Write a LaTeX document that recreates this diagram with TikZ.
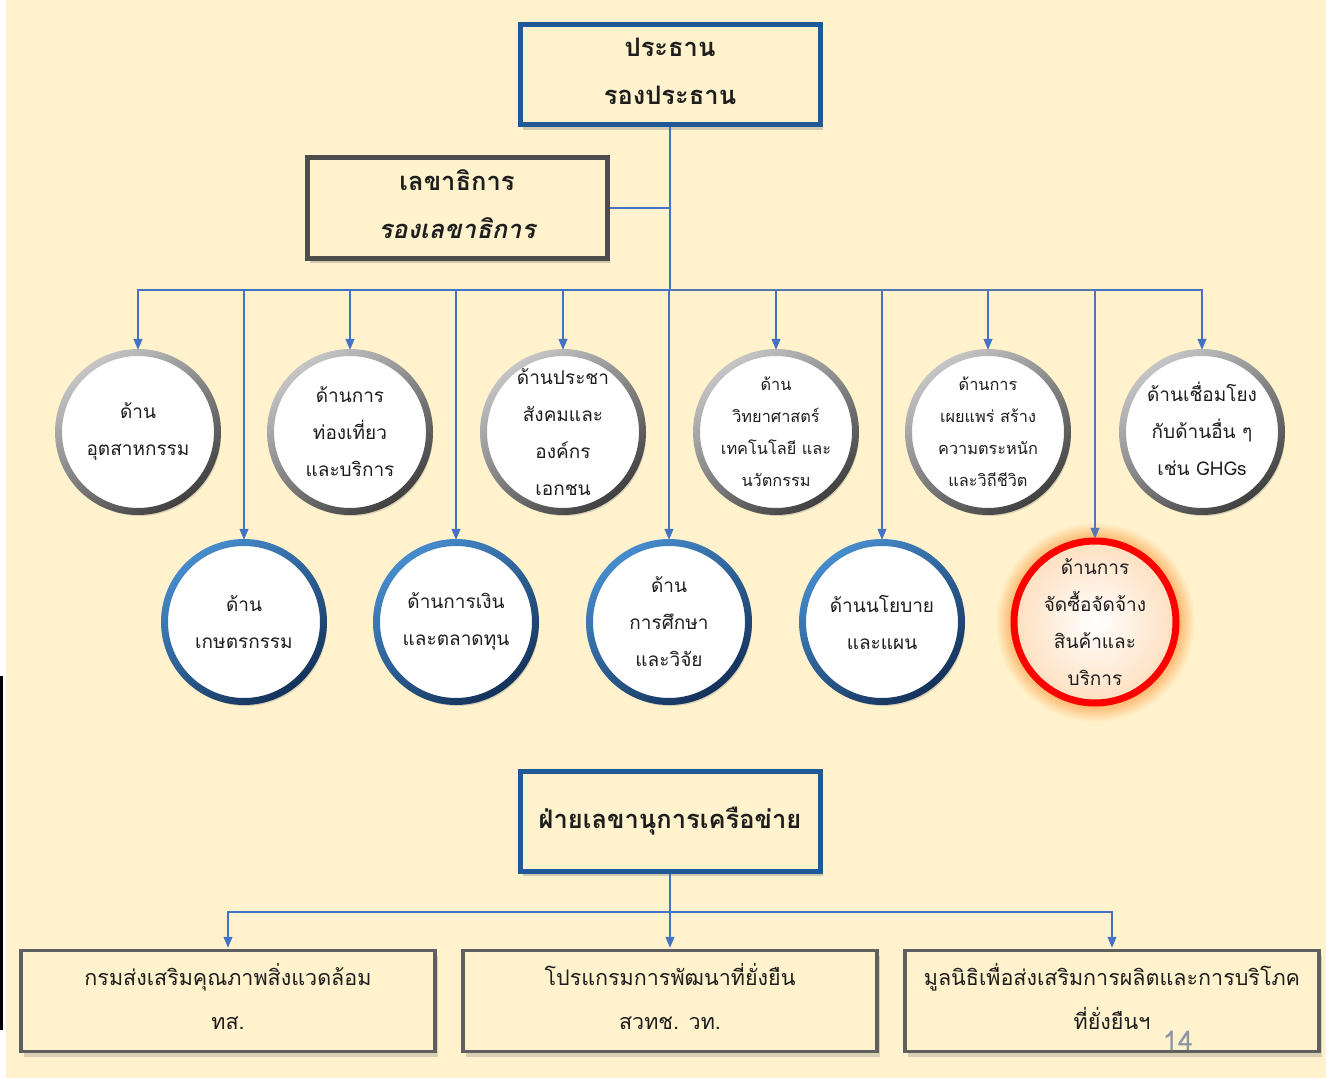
\documentclass[tikz,border=0pt]{standalone}
\usepackage{fontspec}
\setmainfont[Script=Thai]{Loma}
\usetikzlibrary{arrows.meta,shadows}
\definecolor{bg}{HTML}{FFF2CC}
\definecolor{conncol}{HTML}{4472C4}
\definecolor{boxblue}{HTML}{1F5A96}
\definecolor{boxgrey}{HTML}{4D4D4D}
\definecolor{txt}{HTML}{1E1E1E}
\pgfdeclareradialshading{glow}{\pgfpoint{0bp}{0bp}}{color(0bp)=(orange!70); color(19bp)=(orange!70); color(20.5bp)=(orange!60); color(25bp)=(bg)}
\tikzset{
  conn/.style={draw=conncol, line width=1.1pt},
  arr/.style={conn, -{Triangle[width=9pt,length=11pt]}},
  bigbox/.style={draw=boxblue, line width=5pt, fill=bg, minimum width=300pt, minimum height=100pt,
     drop shadow={opacity=0.35, shadow xshift=3pt, shadow yshift=-5pt}},
  secbox/.style={draw=boxgrey, line width=5pt, fill=bg, minimum width=300pt, minimum height=101pt,
     drop shadow={opacity=0.35, shadow xshift=3pt, shadow yshift=-5pt}},
  lowbox/.style={draw=boxgrey!90, line width=3.5pt, fill=bg, minimum width=414pt, minimum height=101pt,
     drop shadow={opacity=0.3, shadow xshift=3pt, shadow yshift=-5pt}},
  disc/.style={circle, minimum size=162pt, inner sep=0pt, fill=white,
     drop shadow={opacity=0.3, shadow xshift=2pt, shadow yshift=-3pt}},
  ctext/.style={align=center, text=txt, font=\fontsize{19}{37}\selectfont},
  stext/.style={align=center, text=txt, font=\fontsize{16.3}{32}\selectfont},
  btext/.style={align=center, text=txt, font=\fontsize{21.5}{44}\selectfont},
  headtext/.style={align=center, text=txt, font=\fontsize{25.5}{48}\selectfont\bfseries},
}
\newcommand{\greyring}[1]{%
  \shade[even odd rule, top color=gray!45, bottom color=black!75, shading angle=35]
    (#1) circle (83pt) (#1) circle (76pt);}
\newcommand{\bluering}[1]{%
  \shade[even odd rule, top color={rgb,255:red,70;green,140;blue,205}, bottom color={rgb,255:red,20;green,50;blue,90}, shading angle=35]
    (#1) circle (83pt) (#1) circle (76pt);}
\begin{document}
\begin{tikzpicture}[x=1pt,y=-1pt]
\useasboundingbox (0,0) rectangle (1326,1078);
\fill[white] (0,0) rectangle (1326,1078);
\fill[bg] (6,0) rectangle (1326,1078);
\draw[black, line width=2.5pt] (1.5,676) -- (1.5,1030);

% boxes
\node[bigbox] (top) at (670,75) {};
\node[headtext] (toptxt) at ([yshift=4pt]top.center) {ประธาน\\รองประธาน};
\node[secbox] (sec) at (457,208) {};
\node[headtext] (sectxt) at ([yshift=4pt]sec.center) {เลขาธิการ\\\itshape รองเลขาธิการ};

\coordinate (bus) at (670,290);
\draw[conn] (top.south) -- (bus);
\draw[conn] (sec.east) -- (sec.east -| bus);

% top-row circles
\foreach \n/\x in {c1/138,c2/350,c3/563,c4/776,c5/988,c6/1202}{
  \node[disc] (\n) at (\x,432) {};
  \greyring{\n}
  \draw[arr] (bus) -| ([yshift=1pt]\n.north);
}
% bottom-row circles
\foreach \n/\x in {d1/244,d2/456,d3/669,d4/882}{
  \node[disc] (\n) at (\x,622) {};
  \bluering{\n}
  \draw[arr] (bus) -| ([yshift=1pt]\n.north);
}
% highlighted circle
\shade[shading=glow] (1095,622) circle (100pt);
\node[circle, minimum size=164pt, inner sep=0pt, inner color=white, outer color=orange!25] (d5) at (1095,622) {};
\draw[red, line width=7pt] (d5.center) circle (81pt);
\draw[arr, draw=conncol!70!gray] (bus) -| ([yshift=1pt]d5.north);

\node[ctext] (t1) at (c1.center) {ด้าน\\อุตสาหกรรม};
\node[ctext] (t2) at (c2.center) {ด้านการ\\ท่องเที่ยว\\และบริการ};
\node[ctext] (t3) at (c3.center) {ด้านประชา\\สังคมและ\\องค์กร\\เอกชน};
\node[stext] (t4) at (c4.center) {ด้าน\\วิทยาศาสตร์\\เทคโนโลยี และ\\นวัตกรรม};
\node[stext] (t5) at (c5.center) {ด้านการ\\เผยแพร่ สร้าง\\ความตระหนัก\\และวิถีชีวิต};
\node[ctext] (t6) at ([yshift=3pt]c6.center) {ด้านเชื่อมโยง\\กับด้านอื่น ๆ\\เช่น GHGs};
\node[ctext] (u1) at (d1.center) {ด้าน\\เกษตรกรรม};
\node[ctext] (u2) at (d2.center) {ด้านการเงิน\\และตลาดทุน};
\node[ctext] (u3) at (d3.center) {ด้าน\\การศึกษา\\และวิจัย};
\node[ctext] (u4) at (d4.center) {ด้านนโยบาย\\และแผน};
\node[ctext] (u5) at (d5.center) {ด้านการ\\จัดซื้อจัดจ้าง\\สินค้าและ\\บริการ};

% network secretariat
\node[bigbox] (net) at (670,821) {};
\node[headtext] (nettxt) at (net.center) {ฝ่ายเลขานุการเครือข่าย};
\coordinate (bus2) at (670,912);
\draw[conn] (net.south) -- (bus2);

\node[lowbox] (b1) at (228,1001) {};
\node[lowbox] (b2) at (670,1001) {};
\node[lowbox] (b3) at (1112,1001) {};
\foreach \n in {b1,b2,b3}{\draw[arr] (bus2) -| ([yshift=1pt]\n.north);}
\node[btext] (bt1) at ([yshift=5pt]b1.center) {กรมส่งเสริมคุณภาพสิ่งแวดล้อม\\ทส.};
\node[btext] (bt2) at ([yshift=5pt]b2.center) {โปรแกรมการพัฒนาที่ยั่งยืน\\สวทช. วท.};
\node[btext] (bt3) at ([yshift=5pt]b3.center) {มูลนิธิเพื่อส่งเสริมการผลิตและการบริโภค\\ที่ยั่งยืนฯ};
\node[text={rgb,255:red,140;green,150;blue,165}, font=\fontsize{27}{30}\selectfont] (pg) at (1178,1041) {14};
\end{tikzpicture}
\end{document}
